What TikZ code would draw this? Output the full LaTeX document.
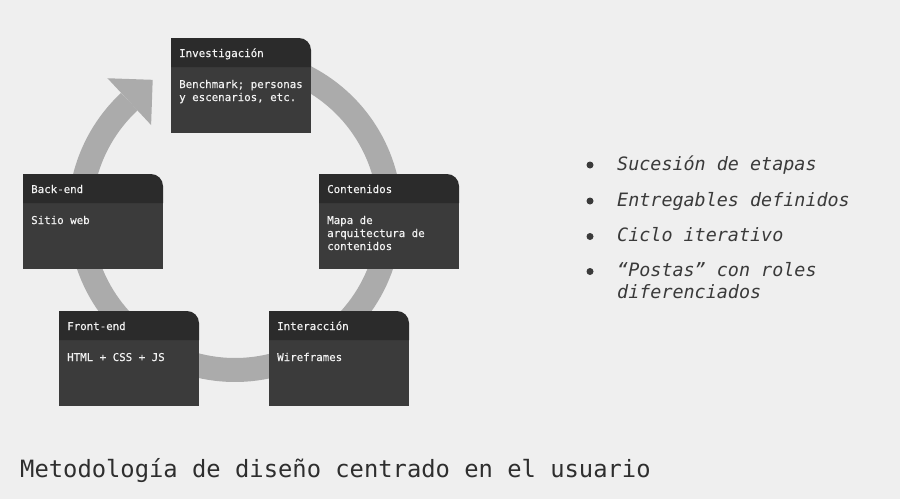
\documentclass[tikz,border=0pt]{standalone}
\usepackage{fontspec}
\setmainfont{DejaVu Sans}
\newfontfamily\monofont{DejaVu Sans Mono}
\newfontfamily\boxfont{DejaVu Sans Mono}[FakeBold=0.35]
\definecolor{bgcol}{HTML}{EFEFEF}
\definecolor{ringcol}{HTML}{ABABAB}
\definecolor{headcol}{HTML}{2B2B2B}
\definecolor{bodycol}{HTML}{3B3B3B}
\definecolor{boxtextcol}{HTML}{F2F2F2}
\definecolor{listcol}{HTML}{3A3A3A}
\definecolor{titlecol}{HTML}{2E2E2E}
\tikzset{
  headtext/.style={anchor=base west, inner sep=0pt, text=boxtextcol, font=\boxfont\fontsize{10.8}{13}\selectfont},
  bodytext/.style={anchor=base west, inner sep=0pt, text=boxtextcol, font=\boxfont\fontsize{10.8}{13}\selectfont},
  listtext/.style={anchor=base west, inner sep=0pt, text=listcol, font=\monofont\itshape\fontsize{18.4}{22.3}\selectfont},
  bulletdot/.style={circle, fill=listcol, inner sep=0pt, minimum size=7pt},
}
\newcommand\stagebox[5]{%
  \fill[bodycol] (#2,{#3+29}) rectangle ({#2+140},{#3+95});
  \fill[headcol] (#2,{#3+29}) -- (#2,#3) -- ({#2+128},#3)
     arc[start angle=90, end angle=0, radius=12pt] -- ({#2+140},{#3+29}) -- cycle;
  \node[headtext] (#1-title) at ({#2+8},{#3+19}) {#4};
  \node[bodytext] (#1-body) at ({#2+8},{#3+50}) {\begin{tabular}[t]{@{}l@{}}#5\end{tabular}};
}
\begin{document}
\begin{tikzpicture}[x=1pt,y=-1pt]
  \fill[bgcol] (0,0) rectangle (900,499);
  \useasboundingbox (0,0) rectangle (900,499);
  % cycle ring
  \draw[ringcol, line width=24pt] plot[domain=-90:227, samples=150] ({235+155*cos(\x)},{215+155*sin(\x)});
  \coordinate (tipA) at (107.47,78.24);
  \coordinate (tipB) at (152.69,79.82);
  \coordinate (tipC) at (151.11,125.04);
  \fill[ringcol] (tipA) -- (tipB) -- (tipC) -- cycle;
  % stages
  \renewcommand\arraystretch{1}
  \stagebox{inv}{171}{38}{Investigación}{Benchmark; personas\\y escenarios, etc.}
  \stagebox{con}{319}{174}{Contenidos}{Mapa de\\arquitectura de\\contenidos}
  \stagebox{back}{23}{174}{Back-end}{Sitio web}
  \stagebox{front}{59}{311}{Front-end}{HTML + CSS + JS}
  \stagebox{int}{269}{311}{Interacción}{Wireframes}
  % list
  \node[bulletdot] (b1) at (590,165) {};
  \node[bulletdot] (b2) at (590,201) {};
  \node[bulletdot] (b3) at (590,236.5) {};
  \node[bulletdot] (b4) at (590,271.5) {};
  \node[listtext] (l1) at (617,170.5) {Sucesión de etapas};
  \node[listtext] (l2) at (617,206.5) {Entregables definidos};
  \node[listtext] (l3) at (617,241.5) {Ciclo iterativo};
  \node[listtext] (l4) at (617,276.5) {\begin{tabular}[t]{@{}l@{}}“Postas” con roles\\diferenciados\end{tabular}};
  % title
  \node[anchor=base west, inner sep=0pt, text=titlecol, font=\monofont\fontsize{23.8}{28}\selectfont] (title) at (20,477) {Metodología de diseño centrado en el usuario};
\end{tikzpicture}
\end{document}
